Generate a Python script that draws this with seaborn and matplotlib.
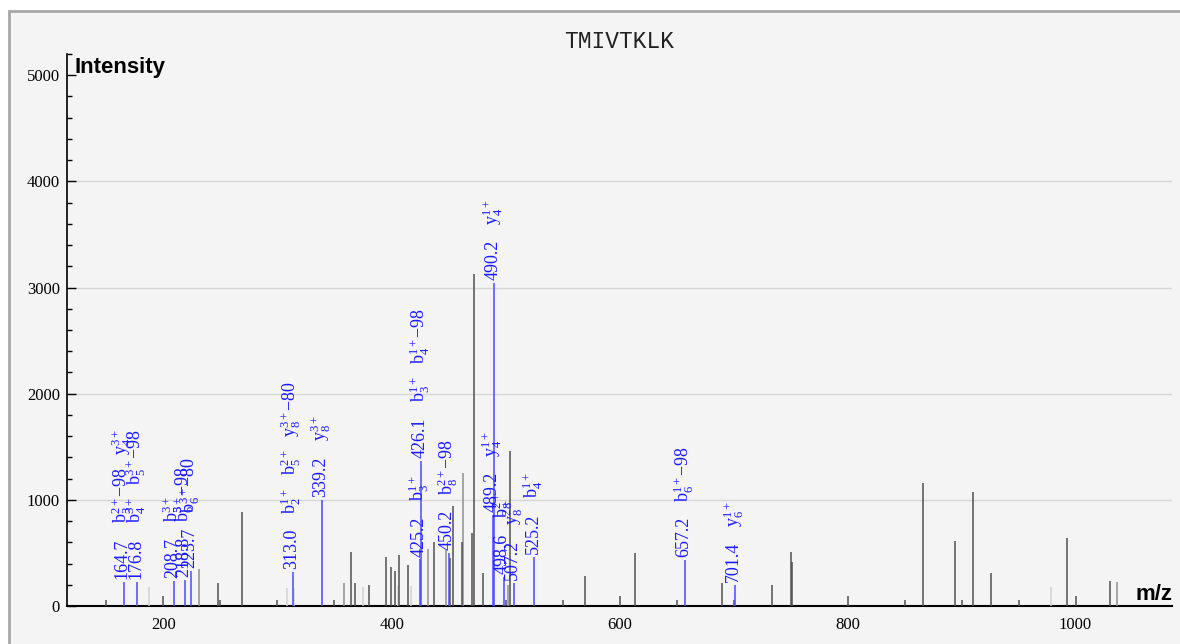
import numpy as np
import pandas as pd
import seaborn as sns
import matplotlib.pyplot as plt
from matplotlib.patches import Rectangle

peptide = "TMIVTKLK"

# unmatched peaks, dark grey
dark_mz = [149.3, 199.3, 247.2, 249.0, 268.6, 299.3, 349.6, 364.6, 368.1, 379.8,
           394.7, 399.4, 402.9, 406.4, 414.0, 436.8, 451.6, 453.5, 461.7, 470.3,
           471.9, 479.8, 500.3, 504.1, 550.0, 569.3, 600.0, 613.8, 650.4, 689.6,
           700.1, 733.8, 750.3, 751.0, 800.5, 850.8, 866.3, 894.4, 900.8, 910.2,
           926.3, 951.1, 992.7, 1000.9, 1030.7]
dark_int = [57, 94, 214, 60, 890, 57, 57, 512, 220, 195,
            465, 371, 330, 478, 384, 600, 450, 940, 607, 692,
            3129, 308, 57, 1456, 57, 286, 94, 497, 57, 214,
            57, 198, 505, 410, 97, 57, 1157, 613, 57, 1072,
            311, 57, 638, 97, 236]

# unmatched peaks, medium grey
mid_mz = [230.5, 358.4, 431.5, 447.7, 463.0, 501.7, 1036.6]
mid_int = [345, 220, 540, 528, 1255, 198, 223]

# unmatched peaks, light grey
light_mz = [187.0, 308.1, 314.5, 374.8, 405.5, 417.0, 978.6]
light_int = [182, 170, 170, 176, 189, 185, 176]

# matched peaks and their ion annotations (ion, index, charge, neutral loss)
match_mz = [164.7, 176.8, 208.7, 218.8, 223.7, 313.0, 339.2, 425.2, 426.1,
            450.2, 489.2, 490.2, 498.6, 507.2, 525.2, 657.2, 701.4]
match_int = [230, 230, 240, 245, 330, 320, 1000, 440, 1370,
             500, 858, 3044, 277, 217, 465, 434, 198]
match_ions = [
    [("b", 3, "2+", "98"), ("y", 4, "3+", "")],
    [("b", 4, "3+", ""), ("b", 5, "3+", "98")],
    [("b", 5, "3+", "")],
    [("b", 6, "3+", "98")],
    [("b", 6, "3+", "80")],
    [("b", 2, "1+", ""), ("b", 5, "2+", ""), ("y", 8, "3+", "80")],
    [("y", 8, "3+", "")],
    [("b", 3, "1+", "")],
    [("b", 3, "1+", ""), ("b", 4, "1+", "98")],
    [("b", 8, "2+", "98")],
    [("y", 4, "1+", "")],
    [("y", 4, "1+", "")],
    [("b", 8, "2+", "")],
    [("y", 8, "2+", "")],
    [("b", 4, "1+", "")],
    [("b", 6, "1+", "98")],
    [("y", 6, "1+", "")],
]

y_ticks = [0, 1000, 2000, 3000, 4000, 5000]
x_ticks = [200, 400, 600, 800, 1000]

blue_line = "#4a4aff"
blue_text = "#1a1aff"
bg = "#f4f4f4"

sns.set_theme(style="white")
plt.rcParams["font.family"] = ["Liberation Serif", "DejaVu Serif"]
plt.rcParams["mathtext.fontset"] = "custom"
plt.rcParams["mathtext.rm"] = "Liberation Serif"
plt.rcParams["mathtext.it"] = "Liberation Serif:italic"
plt.rcParams["text.color"] = "black"
plt.rcParams["xtick.color"] = "black"
plt.rcParams["ytick.color"] = "black"


def ion_text(ion):
    name, idx, z, loss = ion
    s = r"$\mathrm{%s}_{%d}^{%s}$" % (name, idx, z)
    if loss:
        s += "\u2212" + loss
    return s


peaks = pd.concat([
    pd.DataFrame({"mz": light_mz, "intensity": light_int, "kind": "light"}),
    pd.DataFrame({"mz": mid_mz, "intensity": mid_int, "kind": "mid"}),
    pd.DataFrame({"mz": dark_mz, "intensity": dark_int, "kind": "dark"}),
    pd.DataFrame({"mz": match_mz, "intensity": match_int, "kind": "match"}),
], ignore_index=True)
colors = {"light": "#d2d2d2", "mid": "#8f8f8f", "dark": "#505050", "match": blue_line}

fig = plt.figure(figsize=(11.8, 6.44), dpi=100, facecolor="white")
fig.patches.append(Rectangle((9 / 1180, -0.1), 1.2, (644 - 11) / 644 + 0.1,
                             transform=fig.transFigure, facecolor=bg,
                             edgecolor="#a8a8a8", lw=2, zorder=-1))
ax = fig.add_axes([67 / 1180, 38 / 644, 1105 / 1180, 552 / 644])
ax.set_facecolor(bg)

for kind, d in peaks.groupby("kind", sort=False):
    ax.vlines(d["mz"], 0, d["intensity"], colors=colors[kind], lw=1.1, zorder=3)

ax.set_xlim(115, 1085)
ax.set_ylim(0, 5200)
ax.set_xticks(x_ticks)
ax.set_yticks(y_ticks)
ax.set_yticks(np.arange(0, 5201, 200), minor=True)
ax.tick_params(axis="y", which="major", direction="in", length=6.5, width=1,
               labelsize=12, pad=5, left=True)
ax.tick_params(axis="y", which="minor", direction="in", length=3.6, width=1, left=True)
ax.tick_params(axis="x", which="both", length=0, labelsize=12, pad=8)

ax.yaxis.grid(True, color="#d6d6d6", lw=1)
gl = ax.get_ygridlines()
gl[0].set_visible(False)
gl[-1].set_visible(False)
ax.set_axisbelow(True)

sns.despine(ax=ax, top=True, right=True)
ax.spines["left"].set_color("black")
ax.spines["bottom"].set_color("black")
ax.spines["left"].set_linewidth(1.2)
ax.spines["bottom"].set_linewidth(1.5)

fig.text(619.5 / 1180, 1 - 42 / 644, peptide, ha="center", va="center",
         family="Liberation Mono", fontsize=16.5, color="#222222")
fig.text(75 / 1180, 1 - 68 / 644, "Intensity", ha="left", va="center",
         family="Liberation Sans", fontweight="bold", fontsize=16)
fig.text(1172 / 1180, 1 - 594 / 644, "m/z", ha="right", va="center",
         family="Liberation Sans", fontweight="bold", fontsize=16)

# stacked vertical labels above matched peaks
fig.canvas.draw()
renderer = fig.canvas.get_renderer()
px2pt = 72 / fig.dpi
for mz, h, ions in zip(match_mz, match_int, match_ions):
    off = 2
    texts = [f"{mz:.1f}"] + [ion_text(i) for i in ions]
    for k, s in enumerate(texts):
        t = ax.annotate(s, (mz, h), xytext=(-1, off), textcoords="offset points",
                        rotation=90, ha="center", va="bottom", color=blue_text,
                        fontsize=13, zorder=4)
        off += t.get_window_extent(renderer).height * px2pt + (11 if k == 0 else 9)

fig.savefig("out.png", dpi=100, facecolor=fig.get_facecolor())
